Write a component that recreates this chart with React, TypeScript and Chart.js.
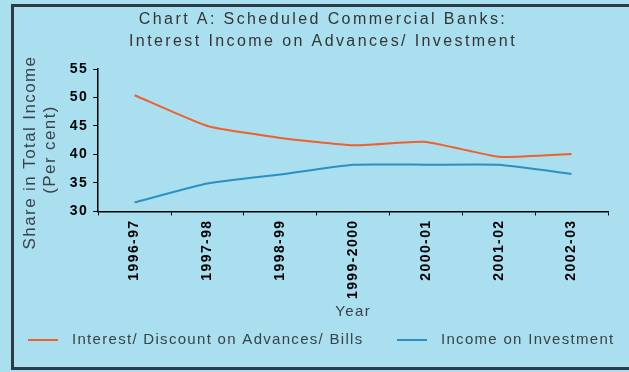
import React, { useEffect, useRef } from "react";
import { Chart, registerables } from "chart.js";

Chart.register(...registerables);

const categories = ["1996-97", "1997-98", "1998-99", "1999-2000", "2000-01", "2001-02", "2002-03"];
const interestAdvances = [50.4, 45.0, 42.9, 41.6, 42.2, 39.6, 40.1];
const incomeInvestment = [31.6, 34.9, 36.5, 38.2, 38.2, 38.2, 36.6];
const seriesLabels = ["Interest/ Discount on Advances/ Bills", "Income on Investment"];
const titleLines = ["Chart A: Scheduled Commercial Banks:", "Interest Income on Advances/ Investment"];
const yTitleLines = ["Share in Total Income    ", "(Per cent)   "];
const xTitle = "Year";

const RED = "#f0602c";
const BLUE = "#2a90c4";
const BG = "#a9dfee";

const customText = {
  id: "customText",
  beforeInit(chart: any) {
    (chart.ctx as any).letterSpacing = "1.4px";
  },
  beforeUpdate(chart: any) {
    (chart.ctx as any).letterSpacing = "1.4px";
  },
  afterDraw(chart: any) {
    const ctx = chart.ctx as any;
    ctx.save();
    // title
    ctx.letterSpacing = "2.4px";
    ctx.font = "16px 'Liberation Sans', Arial, sans-serif";
    ctx.fillStyle = "#353535";
    ctx.textAlign = "center";
    ctx.textBaseline = "middle";
    ctx.fillText(titleLines[0], 323, 20);
    ctx.fillText(titleLines[1], 323, 42);
    // legend
    ctx.letterSpacing = "1.3px";
    ctx.font = "15px 'Liberation Sans', Arial, sans-serif";
    ctx.textAlign = "left";
    ctx.fillStyle = "#3a4248";
    const ly = 340;
    const items = [
      { x: 28, color: RED, text: seriesLabels[0] },
      { x: 397, color: BLUE, text: seriesLabels[1] },
    ];
    items.forEach((it) => {
      ctx.strokeStyle = it.color;
      ctx.lineWidth = 2;
      ctx.beginPath();
      ctx.moveTo(it.x, ly);
      ctx.lineTo(it.x + 30, ly);
      ctx.stroke();
      ctx.fillText(it.text, it.x + 44, ly);
    });
    ctx.restore();
  },
};

export default function App() {
  const ref = useRef<HTMLCanvasElement>(null);
  useEffect(() => {
    if (!ref.current) return;
    const chart = new Chart(ref.current, {
      type: "line",
      data: {
        labels: categories,
        datasets: [
          {
            label: seriesLabels[0],
            data: interestAdvances,
            borderColor: RED,
            backgroundColor: RED,
            borderWidth: 2,
            pointRadius: 0,
            tension: 0.15,
          },
          {
            label: seriesLabels[1],
            data: incomeInvestment,
            borderColor: BLUE,
            backgroundColor: BLUE,
            borderWidth: 2,
            pointRadius: 0,
            tension: 0.15,
          },
        ],
      },
      options: {
        animation: false,
        responsive: false,
        maintainAspectRatio: false,
        layout: { padding: { left: 12, right: 21, top: 69, bottom: 51 } },
        plugins: {
          legend: { display: false },
          title: { display: false },
          tooltip: { enabled: false },
        },
        scales: {
          x: {
            offset: true,
            grid: {
              offset: true,
              drawOnChartArea: false,
              drawTicks: true,
              tickLength: 4,
              color: "#000",
            },
            border: { color: "#000", width: 1.5 },
            ticks: {
              color: "#000",
              font: { family: "'Liberation Sans', Arial, sans-serif", size: 14, weight: "bold" },
              minRotation: 90,
              maxRotation: 90,
              padding: 4,
              autoSkip: false,
            },
            title: {
              display: true,
              text: xTitle,
              color: "#3a4248",
              font: { family: "'Liberation Sans', Arial, sans-serif", size: 15 },
              padding: { top: 0, bottom: 0 },
            },
          },
          y: {
            min: 30,
            max: 55,
            grid: {
              drawOnChartArea: false,
              drawTicks: true,
              tickLength: 5,
              color: "#000",
            },
            border: { color: "#000", width: 1.5 },
            ticks: {
              stepSize: 5,
              color: "#000",
              font: { family: "'Liberation Sans', Arial, sans-serif", size: 14, weight: "bold" },
              padding: 5,
            },
            title: {
              display: true,
              text: yTitleLines,
              color: "#3a4248",
              font: { family: "'Liberation Sans', Arial, sans-serif", size: 17, lineHeight: 1.2 },
              padding: { top: 8, bottom: 4 },
            },
          },
        },
      },
      plugins: [customText],
    });
    return () => chart.destroy();
  }, []);

  return (
    <div style={{ position: "fixed", left: 0, top: 0, width: 629, height: 372, background: BG, overflow: "hidden" }}>
      <div
        style={{
          position: "absolute",
          left: 11,
          top: 4,
          width: 700,
          height: 366,
          border: "3px solid #2c3b44",
          boxSizing: "border-box",
        }}
      />
      <canvas ref={ref} width={629} height={372} style={{ position: "absolute", left: 0, top: 0 }} />
    </div>
  );
}
